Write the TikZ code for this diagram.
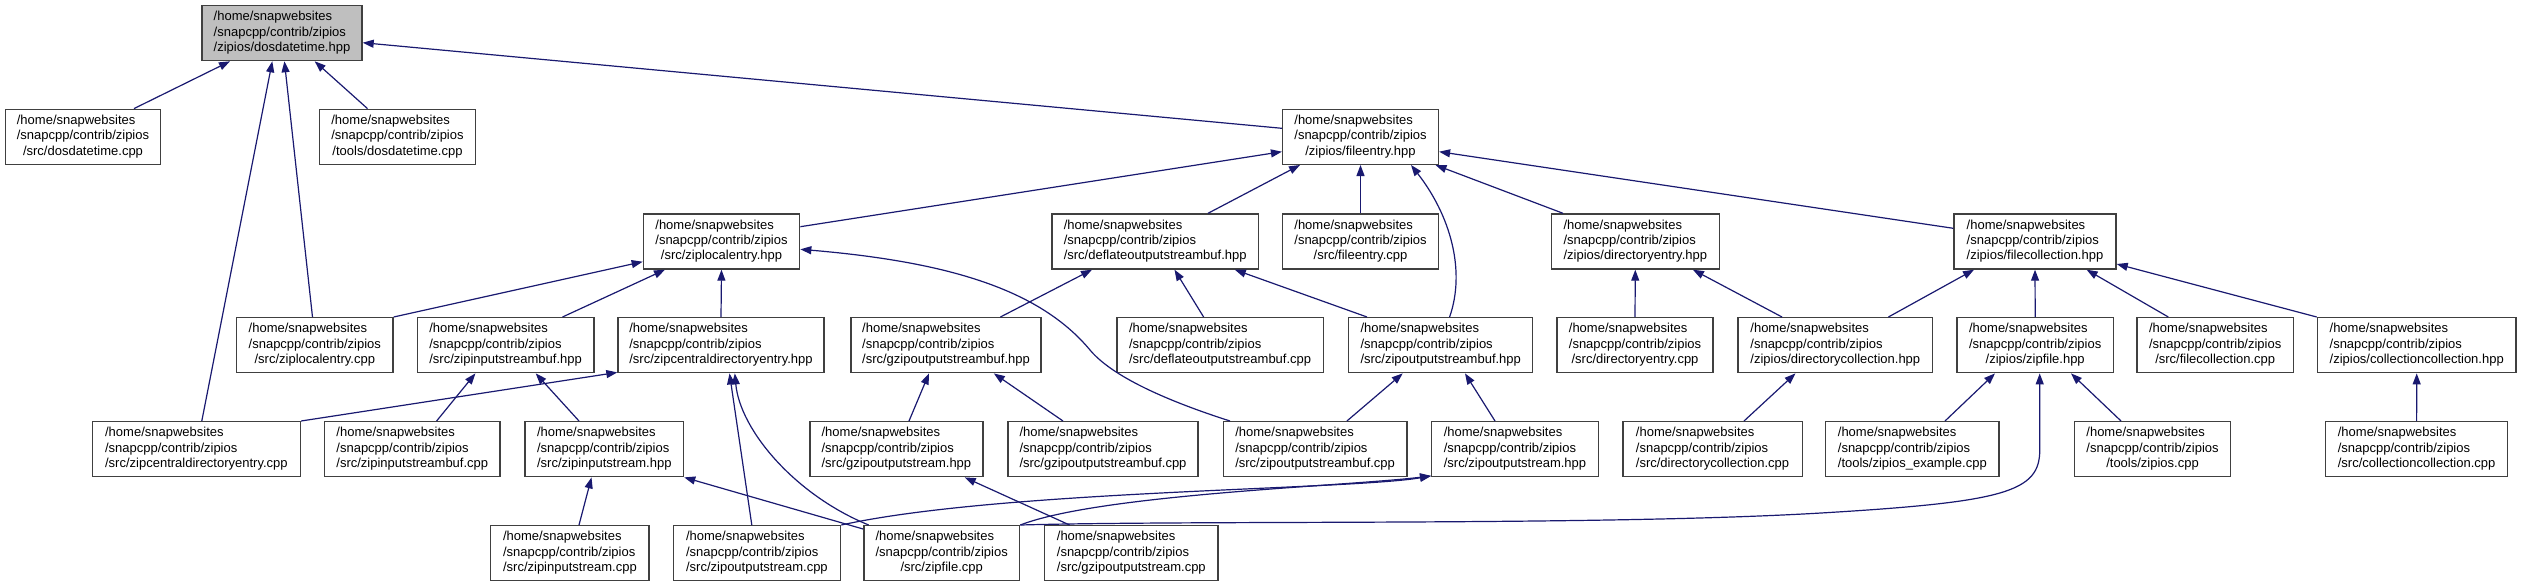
\documentclass[tikz,border=0pt]{standalone}
\usepackage{fontspec}
\setmainfont{Liberation Sans}
\usetikzlibrary{arrows.meta}
\definecolor{edgec}{HTML}{191970}
\definecolor{boxc}{HTML}{404040}
\definecolor{topc}{HTML}{BFBFBF}
\newcommand{\lab}[1]{\begin{tabular}{@{}l@{}}/home/snapwebsites\\/snapcpp/contrib/zipios\\\multicolumn{1}{@{}c@{}}{#1}\end{tabular}}
\tikzset{
  box/.style={draw=boxc, line width=1.4pt, fill=white, minimum height=55pt, inner sep=0pt, font=\fontsize{13}{15.3}\selectfont},
  dep/.style={draw=edgec, line width=1.2pt, {Triangle[length=11pt,width=8pt]}-}
}
\begin{document}
\begin{tikzpicture}[x=1pt,y=-1pt]
\useasboundingbox[fill=white] (0,0) rectangle (2521,587);
% row 0
\node[box, fill=topc, minimum width=160pt] (A) at (282,33.1) {\lab{/zipios/dosdatetime.hpp}};
% row 1
\node[box, minimum width=155.3pt] (B) at (83,136.8) {\lab{/src/dosdatetime.cpp}};
\node[box, minimum width=155.8pt] (C) at (397.5,136.8) {\lab{/tools/dosdatetime.cpp}};
\node[box, minimum width=155.8pt] (D) at (1360.5,136.8) {\lab{/zipios/fileentry.hpp}};
% row 2
\node[box, minimum width=156.3pt] (E) at (721.5,241.5) {\lab{/src/ziplocalentry.hpp}};
\node[box, minimum width=206.7pt] (F) at (1155.2,241.5) {\lab{/src/deflateoutputstreambuf.hpp}};
\node[box, minimum width=155.8pt] (G) at (1360.5,241.5) {\lab{/src/fileentry.cpp}};
\node[box, minimum width=167.9pt] (H) at (1635.3,241.5) {\lab{/zipios/directoryentry.hpp}};
\node[box, minimum width=162pt] (I) at (2035,241.5) {\lab{/zipios/filecollection.hpp}};
% row 3
\node[box, minimum width=156.3pt] (J) at (314.8,345.2) {\lab{/src/ziplocalentry.cpp}};
\node[box, minimum width=176.4pt] (K) at (505.6,345.2) {\lab{/src/zipinputstreambuf.hpp}};
\node[box, minimum width=206pt] (L) at (721,345.2) {\lab{/src/zipcentraldirectoryentry.hpp}};
\node[box, minimum width=190pt] (M) at (946,345.2) {\lab{/src/gzipoutputstreambuf.hpp}};
\node[box, minimum width=206.2pt] (N) at (1220.1,345.2) {\lab{/src/deflateoutputstreambuf.cpp}};
\node[box, minimum width=183.9pt] (O) at (1440.7,345.2) {\lab{/src/zipoutputstreambuf.hpp}};
\node[box, minimum width=156pt] (P) at (1635,345.2) {\lab{/src/directoryentry.cpp}};
\node[box, minimum width=194.6pt] (Q) at (1835.3,345.2) {\lab{/zipios/directorycollection.hpp}};
\node[box, minimum width=156.4pt] (R) at (2035.2,345.2) {\lab{/zipios/zipfile.hpp}};
\node[box, minimum width=156.3pt] (V) at (2215.2,345.2) {\lab{/src/filecollection.cpp}};
\node[box, minimum width=198.6pt] (W) at (2416.7,345.2) {\lab{/zipios/collectioncollection.hpp}};
% row 4
\node[box, minimum width=208pt] (Z1) at (196.4,449.2) {\lab{/src/zipcentraldirectoryentry.cpp}};
\node[box, minimum width=175.4pt] (Z2) at (412.3,449.2) {\lab{/src/zipinputstreambuf.cpp}};
\node[box, minimum width=158.5pt] (Z3) at (604.3,449.2) {\lab{/src/zipinputstream.hpp}};
\node[box, minimum width=173.2pt] (Z4) at (896.4,449.2) {\lab{/src/gzipoutputstream.hpp}};
\node[box, minimum width=190pt] (Z5) at (1103,449.2) {\lab{/src/gzipoutputstreambuf.cpp}};
\node[box, minimum width=183.8pt] (Z6) at (1315.1,449.2) {\lab{/src/zipoutputstreambuf.cpp}};
\node[box, minimum width=166.5pt] (S) at (1515,449.2) {\lab{/src/zipoutputstream.hpp}};
\node[box, minimum width=179.4pt] (T) at (1712.5,449.2) {\lab{/src/directorycollection.cpp}};
\node[box, minimum width=173.5pt] (U) at (1912.3,449.2) {\lab{/tools/zipios\_example.cpp}};
\node[box, minimum width=155.8pt] (X) at (2152.5,449.2) {\lab{/tools/zipios.cpp}};
\node[box, minimum width=182.1pt] (Y) at (2416.6,449.2) {\lab{/src/collectioncollection.cpp}};
% row 5
\node[box, minimum width=158.5pt] (R5a) at (569.9,553.2) {\lab{/src/zipinputstream.cpp}};
\node[box, minimum width=167.4pt] (R5b) at (756.9,553.2) {\lab{/src/zipoutputstream.cpp}};
\node[box, minimum width=155.8pt] (R5c) at (941.7,553.2) {\lab{/src/zipfile.cpp}};
\node[box, minimum width=173.3pt] (R5d) at (1131.3,553.2) {\lab{/src/gzipoutputstream.cpp}};
% edges
\draw[dep] ([xshift=-52pt]A.south) -- ([xshift=51pt]B.north);
\draw[dep] ([xshift=32.7pt]A.south) -- ([xshift=-30pt]C.north);
\draw[dep] ([xshift=-9.7pt]A.south) -- ([xshift=5.4pt]Z1.north);
\draw[dep] ([xshift=2.4pt]A.south) -- ([xshift=-2.3pt]J.north);
\draw[dep] ([yshift=-9.6pt]A.east) -- ([yshift=8.5pt]D.west);
\draw[dep] ([yshift=-14.9pt]D.west) -- ([yshift=14.8pt]E.east);
\draw[dep] ([xshift=-60.5pt]D.south) -- ([xshift=52.8pt]F.north);
\draw[dep] (D.south) -- (G.north);
\draw[dep] ([xshift=50.5pt]D.south) .. controls (1450,215) and (1466,270) .. ([xshift=8.9pt]O.north);
\draw[dep] ([xshift=75pt]D.south) -- ([xshift=-72.3pt]H.north);
\draw[dep] ([yshift=-14.9pt]D.east) -- ([yshift=13.2pt]I.west);
\draw[dep] ([yshift=-20.2pt]E.west) -- (J.north east);
\draw[dep] ([xshift=-56.5pt]E.south) -- ([xshift=56.9pt]K.north);
\draw[dep] (E.south) -- (L.north);
\draw[dep] ([yshift=-7.8pt]E.east) .. controls (950,262) and (1040,290) .. (1090,350) .. controls (1115,380) and (1180,405) .. ([xshift=-85.1pt]Z6.north);
\draw[dep] ([xshift=-63.2pt]F.south) -- ([xshift=54.4pt]M.north);
\draw[dep] ([xshift=19.3pt]F.south) -- ([xshift=-16.5pt]N.north);
\draw[dep] ([xshift=79.6pt]F.south) -- ([xshift=-73.7pt]O.north);
\draw[dep] (H.south) -- (P.north);
\draw[dep] ([xshift=57.6pt]H.south) -- ([xshift=-53.3pt]Q.north);
\draw[dep] ([xshift=-61pt]I.south) -- ([xshift=53.1pt]Q.north);
\draw[dep] (I.south) -- (R.north);
\draw[dep] ([xshift=51.6pt]I.south) -- ([xshift=-46.9pt]V.north);
\draw[dep] ([yshift=-22.5pt]I.east) -- (W.north west);
\draw[dep] ([xshift=-30.2pt]K.south) -- ([xshift=24.3pt]Z2.north);
\draw[dep] ([xshift=30.1pt]K.south) -- ([xshift=-25.3pt]Z3.north);
\draw[dep] ([yshift=1pt]L.south west) -- (Z1.north east);
\draw[dep] ([xshift=8.5pt]L.south) -- ([xshift=-5.1pt]R5b.north);
\draw[dep] ([xshift=13.8pt]L.south) .. controls (740,430) and (795,495) .. ([xshift=-73pt]R5c.north);
\draw[dep] ([xshift=-17pt]M.south) -- ([xshift=12.6pt]Z4.north);
\draw[dep] ([xshift=47.8pt]M.south) -- ([xshift=-40pt]Z5.north);
\draw[dep] ([xshift=-38pt]O.south) -- ([xshift=31.8pt]Z6.north);
\draw[dep] ([xshift=24.3pt]O.south) -- ([xshift=-20pt]S.north);
\draw[dep] ([xshift=-39.8pt]Q.south) -- ([xshift=31.5pt]T.north);
\draw[dep] ([xshift=-40.2pt]R.south) -- ([xshift=32.7pt]U.north);
\draw[dep] ([xshift=35.8pt]R.south) -- ([xshift=-31.5pt]X.north);
\draw[dep] ([xshift=4.5pt]R.south) -- (2039.75,450) .. controls (2039.75,492) and (2005,502) .. (1821,513) .. controls (1600,526) and (1200,520) .. (R5c.north east);
\draw[dep] (W.south) -- (Y.north);
\draw[dep] ([xshift=-12.8pt]Z3.south) -- ([xshift=9.1pt]R5a.north);
\draw[dep] (Z3.south east) -- ([yshift=-4pt]R5c.north west);
\draw[dep] ([xshift=68.3pt]Z4.south) -- ([xshift=-61.7pt]R5d.north);
\draw[dep] ([yshift=1.5pt]S.south west) .. controls (1350,490) and (1000,490) .. (R5b.north east);
\draw[dep] ([yshift=1.5pt]S.south west) .. controls (1350,486) and (1100,494) .. (R5c.north east);
\end{tikzpicture}
\end{document}
